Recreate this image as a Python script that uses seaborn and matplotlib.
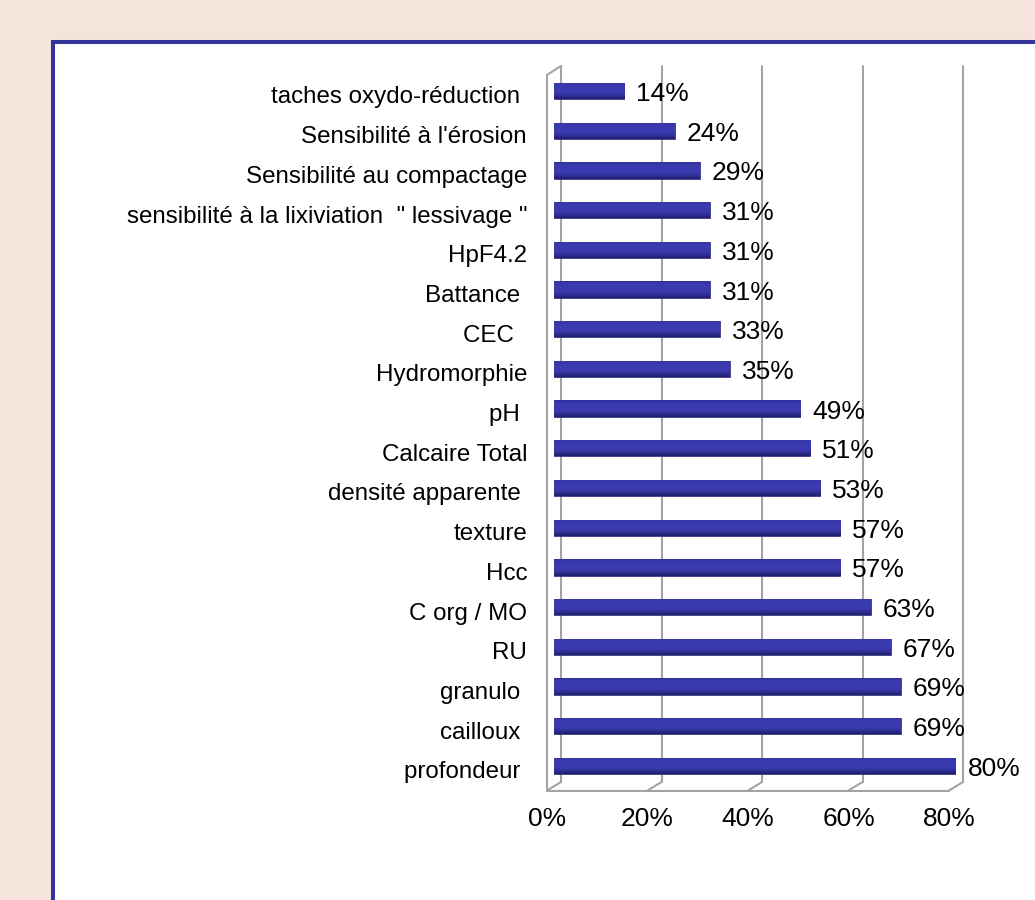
import matplotlib
matplotlib.use("Agg")
import numpy as np
import pandas as pd
import seaborn as sns
import matplotlib.pyplot as plt
from matplotlib import transforms as mtrans
from matplotlib.patches import Rectangle
from matplotlib.colors import LinearSegmentedColormap

categories = [
    "taches oxydo-réduction ",
    "Sensibilité à l'érosion",
    "Sensibilité au compactage",
    "sensibilité à la lixiviation  \" lessivage \"",
    "HpF4.2",
    "Battance ",
    "CEC  ",
    "Hydromorphie",
    "pH ",
    "Calcaire Total",
    "densité apparente ",
    "texture",
    "Hcc",
    "C org / MO",
    "RU",
    "granulo ",
    "cailloux ",
    "profondeur ",
]
values = [14, 24, 29, 31, 31, 31, 33, 35, 49, 51, 53, 57, 57, 63, 67, 69, 69, 80]
ticks = [0, 20, 40, 60, 80]
tick_labels = ["0%", "20%", "40%", "60%", "80%"]

sns.set_theme(style="white")
plt.rcParams["font.family"] = ["Liberation Sans", "DejaVu Sans"]

W, H, DPI = 1035, 900, 100
fig = plt.figure(figsize=(W / DPI, H / DPI), dpi=DPI, facecolor="#F5E4DB")

# white panel with blue border
panel = Rectangle((53 / W, -0.1), 1.2, 1 - 42 / H + 0.1, transform=fig.transFigure,
                  facecolor="white", edgecolor="#333399", lw=2.9, zorder=0)
fig.add_artist(panel)

px_per_unit = 402 / 80
ax = fig.add_axes([554 / W, 1 - 785.75 / H, 402 / W, 714.6 / H])
ax.set_facecolor("none")

df = pd.DataFrame({"cat": categories, "val": values})
sns.barplot(data=df, y="cat", x="val", order=categories, color="#3838aa",
            width=0.41, ax=ax, orient="h", edgecolor="#24247a", linewidth=0.5, zorder=3)

cmap = LinearSegmentedColormap.from_list(
    "cyl", [(0, "#30309c"), (0.15, "#3a3aae"), (0.6, "#3c3cb2"), (0.85, "#2c2c8e"), (1, "#1e1e66")])
grad = np.linspace(0, 1, 64).reshape(-1, 1)
for p in list(ax.patches):
    x0, y0, w, h = p.get_x(), p.get_y(), p.get_width(), p.get_height()
    im = ax.imshow(grad, cmap=cmap, aspect="auto", origin="upper",
                   extent=(x0, x0 + w, y0 + h, y0), zorder=3.5, interpolation="bilinear")
    im.set_clip_path(p)

for p, v in zip(ax.patches, values):
    ax.annotate(f"{v}%", xy=(p.get_x() + p.get_width(), p.get_y() + p.get_height() / 2),
                xytext=(12, -3), textcoords="offset pixels", ha="left", va="center",
                fontsize=19, color="black", zorder=5)

ax.set_xlim(0, 80)
ax.set_ylim(17.5, -0.5)
ax.set_ylabel("")
ax.set_xlabel("")
for s in ax.spines.values():
    s.set_visible(False)

ax.set_yticks(range(len(categories)))
ax.set_yticklabels(categories, fontsize=17.4, color="black")
ax.tick_params(axis="y", length=0, pad=19.4)
for lbl in ax.get_yticklabels():
    lbl.set_transform(lbl.get_transform() + mtrans.ScaledTranslation(0, -4 / DPI, fig.dpi_scale_trans))

ax.set_xticks(ticks)
ax.set_xticklabels(tick_labels, fontsize=19, color="black")
ax.tick_params(axis="x", length=0, pad=15)
for lbl in ax.get_xticklabels():
    lbl.set_transform(lbl.get_transform() + mtrans.ScaledTranslation(-7 / DPI, 0, fig.dpi_scale_trans))

# 3D frame decoration
tb = mtrans.blended_transform_factory(ax.transData, fig.transFigure)
d = 7 / px_per_unit
fy = lambda py: 1 - py / H
gc = "#a3a3a3"
lw = 1.5
for t in ticks:
    ax.plot([t + d, t + d], [fy(66), fy(782)], transform=tb, color=gc, lw=lw, clip_on=False, zorder=1)
    ax.plot([t - d, t + d], [fy(790.5), fy(782)], transform=tb, color=gc, lw=lw, clip_on=False, zorder=1)
ax.plot([ticks[0] - d, ticks[-1] - d], [fy(790.5), fy(790.5)], transform=tb, color=gc, lw=lw,
        clip_on=False, zorder=1)
ax.plot([ticks[0] - d, ticks[0] - d], [fy(75), fy(790.5)], transform=tb, color=gc, lw=lw,
        clip_on=False, zorder=1)
ax.plot([ticks[0] - d, ticks[0] + d], [fy(75), fy(66)], transform=tb, color=gc, lw=lw,
        clip_on=False, zorder=1)

fig.savefig("out.png", dpi=DPI, facecolor=fig.get_facecolor())
